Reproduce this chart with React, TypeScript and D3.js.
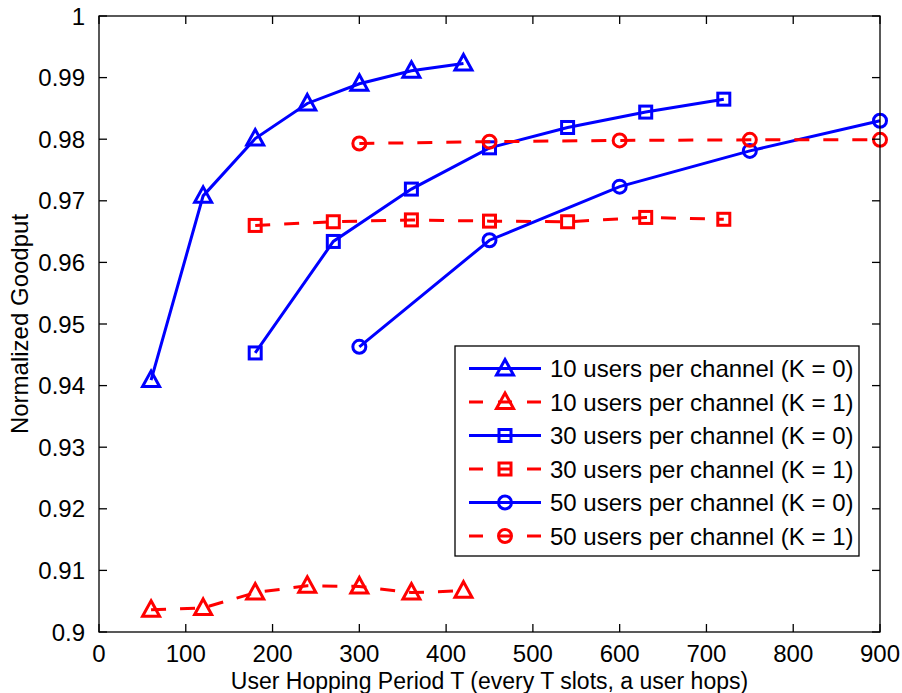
import * as d3 from 'd3';
import React, { useEffect, useRef } from 'react';

// hopping period T for each curve
const t10 = [60, 120, 180, 240, 300, 360, 420];
const t30 = [180, 270, 360, 450, 540, 630, 720];
const t50 = [300, 450, 600, 750, 900];

// normalized goodput values
const g10k0 = [0.9409, 0.9708, 0.9801, 0.9858, 0.9890, 0.9911, 0.9923];
const g10k1 = [0.9036, 0.9039, 0.9064, 0.9075, 0.9074, 0.9064, 0.9067];
const g30k0 = [0.9453, 0.9634, 0.9719, 0.9786, 0.9819, 0.9844, 0.9865];
const g30k1 = [0.9660, 0.9666, 0.9669, 0.9667, 0.9666, 0.9673, 0.9670];
const g50k0 = [0.9463, 0.9636, 0.9723, 0.9781, 0.9830];
const g50k1 = [0.9793, 0.9796, 0.9798, 0.9799, 0.9799];

const xTicks = [0, 100, 200, 300, 400, 500, 600, 700, 800, 900];
const yTicks = [0.9, 0.91, 0.92, 0.93, 0.94, 0.95, 0.96, 0.97, 0.98, 0.99, 1];

const seriesList = [
  { label: '10 users per channel (K = 0)', xs: t10, ys: g10k0, color: '#0000ff', dashed: false, marker: 'tri' },
  { label: '10 users per channel (K = 1)', xs: t10, ys: g10k1, color: '#ff0000', dashed: true, marker: 'tri' },
  { label: '30 users per channel (K = 0)', xs: t30, ys: g30k0, color: '#0000ff', dashed: false, marker: 'sq' },
  { label: '30 users per channel (K = 1)', xs: t30, ys: g30k1, color: '#ff0000', dashed: true, marker: 'sq' },
  { label: '50 users per channel (K = 0)', xs: t50, ys: g50k0, color: '#0000ff', dashed: false, marker: 'circ' },
  { label: '50 users per channel (K = 1)', xs: t50, ys: g50k1, color: '#ff0000', dashed: true, marker: 'circ' },
];

const FONT = '"Liberation Sans", Arial, Helvetica, sans-serif';
const LW = 3;

function drawMarker(g: any, kind: string, cx: number, cy: number, color: string) {
  if (kind === 'tri') {
    g.append('path')
      .attr('d', `M${cx},${cy - 9} L${cx + 8.5},${cy + 6.5} L${cx - 8.5},${cy + 6.5} Z`)
      .attr('fill', 'none').attr('stroke', color).attr('stroke-width', LW);
  } else if (kind === 'sq') {
    g.append('rect')
      .attr('x', cx - 6).attr('y', cy - 6).attr('width', 12).attr('height', 12)
      .attr('fill', 'none').attr('stroke', color).attr('stroke-width', LW);
  } else {
    g.append('circle')
      .attr('cx', cx).attr('cy', cy).attr('r', 6.5)
      .attr('fill', 'none').attr('stroke', color).attr('stroke-width', LW);
  }
}

export default function App() {
  const ref = useRef<SVGSVGElement>(null);

  useEffect(() => {
    const width = 902;
    const height = 693;
    const left = 99, right = 880, top = 16, bottom = 632;

    const svg = d3.select(ref.current);
    svg.selectAll('*').remove();

    const x = d3.scaleLinear().domain([0, 900]).range([left, right]);
    const y = d3.scaleLinear().domain([0.9, 1]).range([bottom, top]);

    svg.append('rect').attr('width', width).attr('height', height).attr('fill', '#fff');

    // data lines
    const line = d3.line<[number, number]>().x(d => x(d[0])).y(d => y(d[1]));
    const plot = svg.append('g');
    seriesList.forEach((s) => {
      const pts: [number, number][] = s.xs.map((t, i) => [t, s.ys[i]]);
      plot.append('path')
        .attr('d', line(pts))
        .attr('fill', 'none')
        .attr('stroke', s.color)
        .attr('stroke-width', LW)
        .attr('stroke-dasharray', s.dashed ? '15,14' : null);
      pts.forEach(p => drawMarker(plot, s.marker, x(p[0]), y(p[1]), s.color));
    });

    // axes box and ticks
    const ax = svg.append('g').attr('stroke', '#000').attr('stroke-width', 1.3);
    ax.append('rect')
      .attr('x', left).attr('y', top).attr('width', right - left).attr('height', bottom - top)
      .attr('fill', 'none');
    xTicks.forEach(t => {
      ax.append('line').attr('x1', x(t)).attr('x2', x(t)).attr('y1', bottom).attr('y2', bottom - 8);
      ax.append('line').attr('x1', x(t)).attr('x2', x(t)).attr('y1', top).attr('y2', top + 8);
    });
    yTicks.forEach(t => {
      ax.append('line').attr('x1', left).attr('x2', left + 8).attr('y1', y(t)).attr('y2', y(t));
      ax.append('line').attr('x1', right).attr('x2', right - 8).attr('y1', y(t)).attr('y2', y(t));
    });

    const txt = svg.append('g').attr('font-family', FONT).attr('font-size', 24).attr('fill', '#000');
    xTicks.forEach(t => {
      txt.append('text').attr('x', x(t)).attr('y', 662).attr('text-anchor', 'middle').text(t);
    });
    yTicks.forEach(t => {
      txt.append('text').attr('x', 85).attr('y', y(t) + 8.5).attr('text-anchor', 'end').text(d3.format('')(+t.toFixed(2)));
    });
    txt.append('text')
      .attr('x', (left + right) / 2).attr('y', 689).attr('text-anchor', 'middle')
      .attr('font-size', 23)
      .text('User Hopping Period T (every T slots, a user hops)');
    txt.append('text')
      .attr('transform', `translate(28, ${(top + bottom) / 2}) rotate(-90)`)
      .attr('text-anchor', 'middle')
      .text('Normalized Goodput');

    // legend
    const lg = svg.append('g');
    lg.append('rect')
      .attr('x', 455).attr('y', 346).attr('width', 404).attr('height', 210)
      .attr('fill', '#fff').attr('stroke', '#000').attr('stroke-width', 1.3);
    seriesList.forEach((s, i) => {
      const ry = 368.5 + i * 33.5;
      lg.append('line')
        .attr('x1', 469).attr('x2', 541).attr('y1', ry).attr('y2', ry)
        .attr('stroke', s.color).attr('stroke-width', LW)
        .attr('stroke-dasharray', s.dashed ? '14,15' : null);
      drawMarker(lg, s.marker, 505, ry, s.color);
      lg.append('text')
        .attr('x', 550).attr('y', ry + 8.5)
        .attr('font-family', FONT).attr('font-size', 24)
        .text(s.label);
    });
  }, []);

  return (
    <svg ref={ref} width={902} height={693}
      style={{ position: 'absolute', left: 0, top: 0, display: 'block' }} />
  );
}
